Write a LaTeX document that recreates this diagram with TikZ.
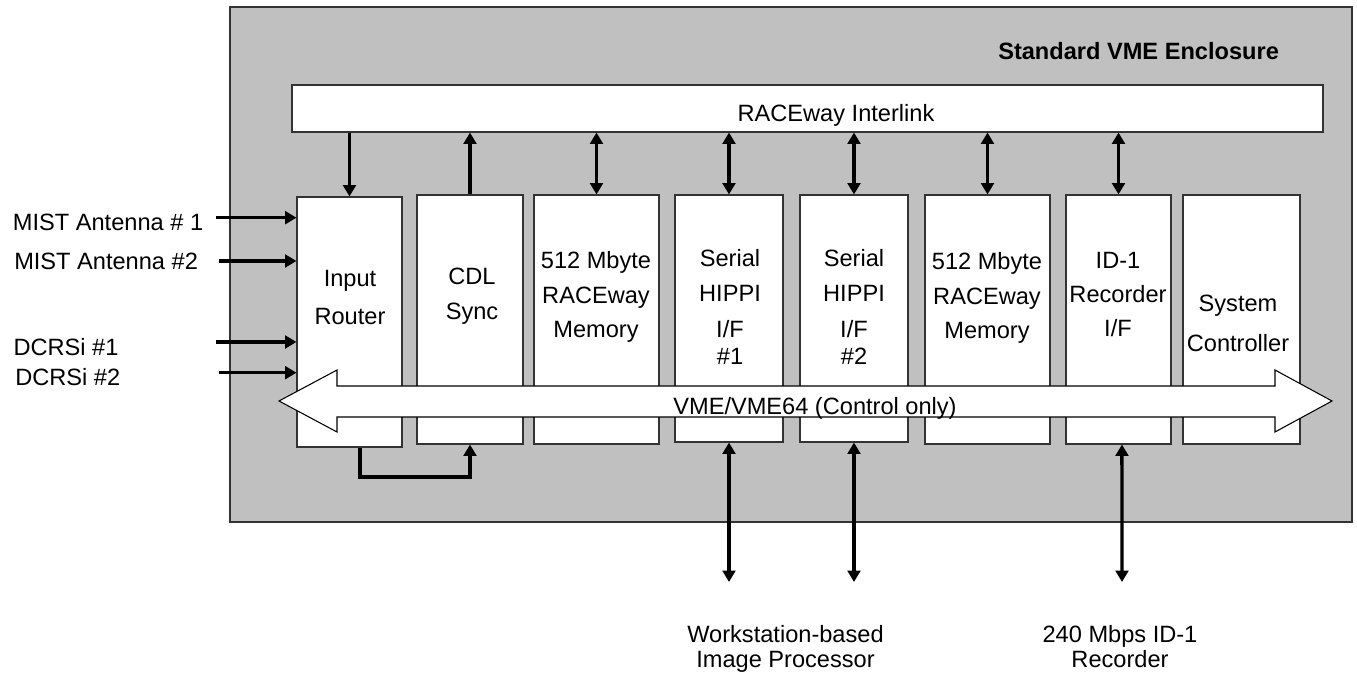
\documentclass[tikz,border=0pt]{standalone}
\usepackage{fontspec}
\setmainfont{Liberation Sans}
\usetikzlibrary{arrows.meta,fit}
\definecolor{encfill}{HTML}{C0C0C0}
\begin{document}
\begin{tikzpicture}[x=0.75pt,y=-0.75pt,
  every node/.style={font=\fontsize{17.7pt}{21pt}\selectfont, inner sep=0pt},
  encl/.style={draw=black!80, line width=1pt, fill=encfill},
  card/.style={draw=black!80, line width=0.8pt, fill=white},
  lbl/.style={align=center, anchor=north},
  conn/.style={line width=2.6pt, -{Triangle[width=9.5pt,length=8.5pt]}},
  bconn/.style={line width=2.6pt, {Triangle[width=9.5pt,length=8.5pt]}-{Triangle[width=9.5pt,length=8.5pt]}},
  bus/.style={draw=black, line width=0.8pt, fill=white}]
\useasboundingbox (0,0) rectangle (1357,673);
% enclosure
\node[encl, fit={(230,7) (1352,522)}] (E) {};
\node[font=\bfseries\fontsize{17.7pt}{21pt}\selectfont, anchor=base west] (title) at (998,60) {Standard VME Enclosure};
% RACEway
\node[card, fit={(292,85) (1323,132)}] (RI) {};
\node[anchor=base] (RIt) at (836,122) {RACEway Interlink};
% cards
\node[card, fit={(297,197) (402,447)}] (IR) {};
\node[card, fit={(417,195) (523,444)}] (CDL) {};
\node[card, fit={(534,195) (659,444)}] (M1) {};
\node[card, fit={(675,195) (783,442)}] (H1) {};
\node[card, fit={(800,195) (908,442)}] (H2) {};
\node[card, fit={(925,195) (1050,444)}] (M2) {};
\node[card, fit={(1066,195) (1171,444)}] (ID) {};
\node[card, fit={(1183,195) (1300,444)}] (SC) {};
% card texts
\node[lbl, font=\fontsize{17.7pt}{28.5pt}\selectfont] (IRt) at (350,270) {Input\\Router};
\node[lbl, font=\fontsize{17.7pt}{26.25pt}\selectfont] (CDLt) at (472,268) {CDL\\Sync};
\node[lbl, font=\fontsize{17.7pt}{26pt}\selectfont] (M1t) at (596,251) {512 Mbyte\\RACEway\\Memory};
\node[lbl, font=\fontsize{17.7pt}{26.5pt}\selectfont] (H1t) at (730,249) {Serial\\HIPPI\\I/F\\[-6pt]\#1};
\node[lbl, font=\fontsize{17.7pt}{26.5pt}\selectfont] (H2t) at (854,249) {Serial\\HIPPI\\I/F\\[-6pt]\#2};
\node[lbl, font=\fontsize{17.7pt}{26pt}\selectfont] (M2t) at (987,252) {512 Mbyte\\RACEway\\Memory};
\node[lbl, font=\fontsize{17.7pt}{25.5pt}\selectfont] (IDt) at (1118,252) {ID-1\\Recorder\\I/F};
\node[lbl, font=\fontsize{17.7pt}{30pt}\selectfont] (SCt) at (1238,295) {System\\Controller};
% RACEway connectors
\draw[conn] (RI.south -| IR.north) -- (IR.north);
\draw[conn] (CDL.north) -- (RI.south -| CDL.north);
\draw[bconn] (M1.north) -- (RI.south -| M1.north);
\draw[bconn] (H1.north) -- (RI.south -| H1.north);
\draw[bconn] (H2.north) -- (RI.south -| H2.north);
\draw[bconn] (M2.north) -- (RI.south -| M2.north);
\draw[bconn] (ID.north) -- (RI.south -| ID.north);
% input router to CDL sync
\coordinate (lk) at (0,477);
\draw[conn] ([xshift=7.9pt]IR.south) |- (CDL.south |- lk) -- (CDL.south);
% inputs
\node[anchor=base west] (l1) at (12.7,230.7) {MIST Antenna \# 1};
\node[anchor=base west] (l2) at (14,270) {MIST Antenna \#2};
\node[anchor=base west] (l3) at (13.3,356) {DCRSi \#1};
\node[anchor=base west] (l4) at (15,386) {DCRSi \#2};
\coordinate (a1) at (216,217.7);
\coordinate (a2) at (219,261);
\coordinate (a3) at (216,342);
\coordinate (a4) at (219,372.7);
\draw[conn] (a1) -- (a1 -| IR.west);
\draw[conn] (a2) -- (a2 -| IR.west);
\draw[conn] (a3) -- (a3 -| IR.west);
\draw[conn] (a4) -- (a4 -| IR.west);
% external links
\coordinate (b1) at (729,582);
\coordinate (b2) at (854,582);
\coordinate (b3) at (1122,582);
\draw[bconn] (H1.south) -- (b1);
\draw[bconn] (H2.south) -- (b2);
\draw[bconn] ([xshift=2.6pt]ID.south) -- (b3);
\node[lbl, font=\fontsize{17.7pt}{18.75pt}\selectfont] (ws) at (785.5,625) {Workstation-based\\Image Processor};
\node[lbl, font=\fontsize{17.7pt}{18.75pt}\selectfont] (rec) at (1120,625) {240 Mbps ID-1\\Recorder};
% VME bus
\draw[bus] (279,401) -- (337,370) -- (337,386) -- (1275,386) -- (1275,370) -- (1332,401) -- (1275,432) -- (1275,417) -- (337,417) -- (337,432) -- cycle;
\node[anchor=base] (vme) at (815,415) {VME/VME64 (Control only)};
\end{tikzpicture}
\end{document}
